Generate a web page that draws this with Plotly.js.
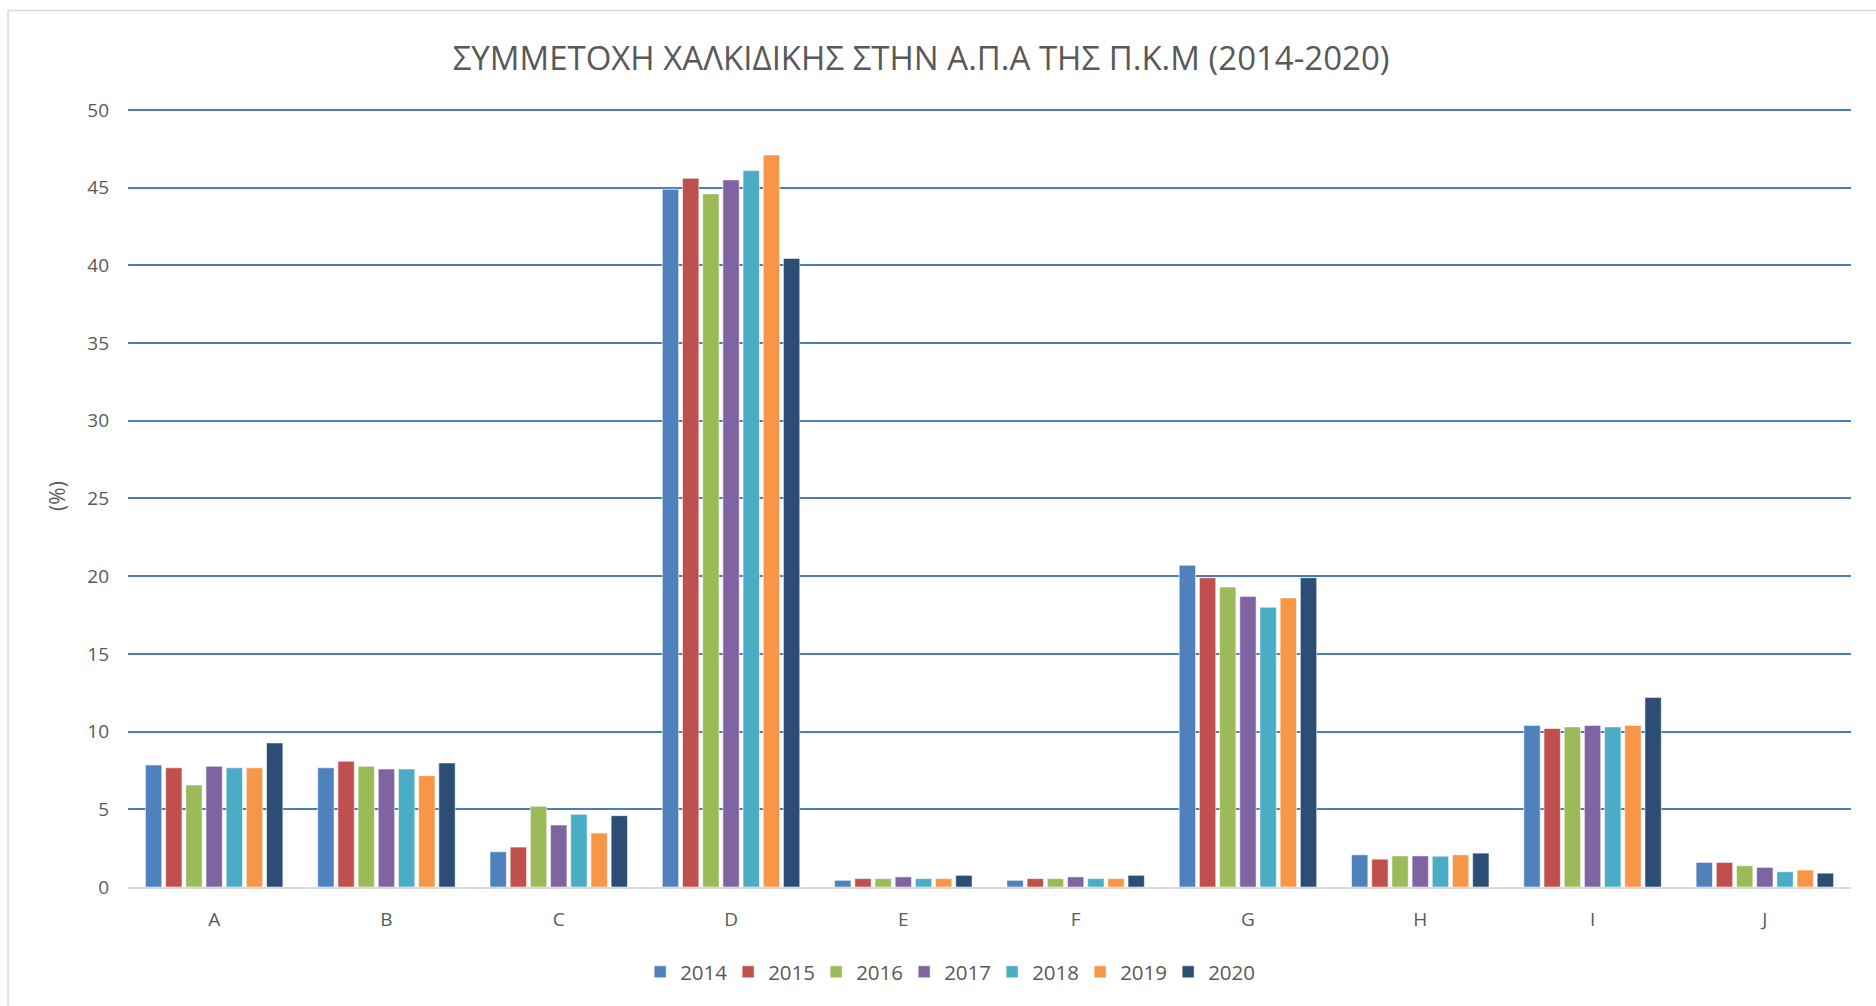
<!DOCTYPE html>
<html>
<head>
<meta charset="utf-8">
<script src="https://cdn.plot.ly/plotly-3.0.1.min.js"></script>
<style>html,body{margin:0;padding:0;background:#fff;}#chart{width:1876px;height:1006px;}</style>
</head>
<body>
<div id="chart"></div>
<script>
const categories = ["A","B","C","D","E","F","G","H","I","J"];
const years = ["2014","2015","2016","2017","2018","2019","2020"];
const v2014 = [7.85, 7.67, 2.27, 44.9, 0.43, 0.43, 20.7, 2.07, 10.4, 1.58];
const v2015 = [7.67, 8.09, 2.57, 45.6, 0.54, 0.54, 19.9, 1.79, 10.2, 1.58];
const v2016 = [6.56, 7.77, 5.19, 44.6, 0.54, 0.54, 19.3, 2.0, 10.3, 1.37];
const v2017 = [7.77, 7.59, 3.99, 45.5, 0.65, 0.65, 18.7, 2.0, 10.4, 1.26];
const v2018 = [7.67, 7.59, 4.68, 46.1, 0.54, 0.54, 18.0, 1.98, 10.3, 0.98];
const v2019 = [7.67, 7.16, 3.47, 47.1, 0.54, 0.54, 18.6, 2.07, 10.4, 1.09];
const v2020 = [9.27, 7.98, 4.59, 40.45, 0.75, 0.75, 19.9, 2.18, 12.2, 0.89];
const seriesValues = [v2014, v2015, v2016, v2017, v2018, v2019, v2020];
const colors = ["#4F81BD","#C0504D","#9BBB59","#8064A2","#4BACC6","#F79646","#2C4D75"];

const FONT = "'Open Sans', 'Liberation Sans', sans-serif";
const traces = years.map((y, i) => ({
  type: "bar",
  name: y,
  x: categories,
  y: seriesValues[i],
  marker: {color: colors[i], line: {color: "rgba(255,255,255,0.55)", width: 1}},
  hoverinfo: "x+y+name"
}));

// plot area: y=0 at 887px, y=50 at 110px (15.54 px per unit); top padded so the 50 gridline shows
const T = 105;
const layout = {
  width: 1876, height: 1006,
  paper_bgcolor: "#ffffff", plot_bgcolor: "#ffffff",
  margin: {l: 128, r: 25, t: T, b: 119},
  font: {family: FONT, color: "#595959", size: 19},
  title: {text: "ΣΥΜΜΕΤΟΧΗ ΧΑΛΚΙΔΙΚΗΣ ΣΤΗΝ Α.Π.Α ΤΗΣ Π.Κ.Μ (2014-2020)",
          font: {family: FONT, size: 33, color: "#595959"},
          x: 0.491, xanchor: "center", y: 1 - 58/1006, yanchor: "middle", yref: "container"},
  barmode: "group",
  bargap: 0.18,
  bargroupgap: 0.19,
  xaxis: {type: "category", showgrid: false, zeroline: false, showline: true,
          linecolor: "#d9d9d9", linewidth: 2, ticks: "", ticklabelstandoff: 14,
          tickfont: {family: FONT, size: 19, color: "#595959"}},
  yaxis: {range: [0, 50.32], dtick: 5, tick0: 0, showgrid: true, gridcolor: "#4A7EBB", gridwidth: 2,
          zeroline: false, showline: false, ticks: "", ticklabelstandoff: 18,
          tickfont: {family: FONT, size: 19, color: "#595959"},
          title: {text: "(%)", font: {family: FONT, size: 21, color: "#595959"}, standoff: 15}},
  legend: {orientation: "h", x: 0.476, xanchor: "center", y: (887 - 972) / (887 - T), yanchor: "middle",
           font: {family: FONT, size: 20.5, color: "#595959"}, entrywidth: 43, entrywidthmode: "pixels",
           traceorder: "normal"},
  shapes: [{type: "rect", xref: "paper", yref: "paper", x0: -0.0696, x1: 1.1,
            y0: (887 - 1030) / (887 - T), y1: (887 - 10.5) / (887 - T),
            line: {color: "#d9d9d9", width: 1.5}, fillcolor: "rgba(0,0,0,0)", layer: "below"}],
  showlegend: true
};

Plotly.newPlot("chart", traces, layout, {displayModeBar: false, responsive: false});
</script>
</body>
</html>
